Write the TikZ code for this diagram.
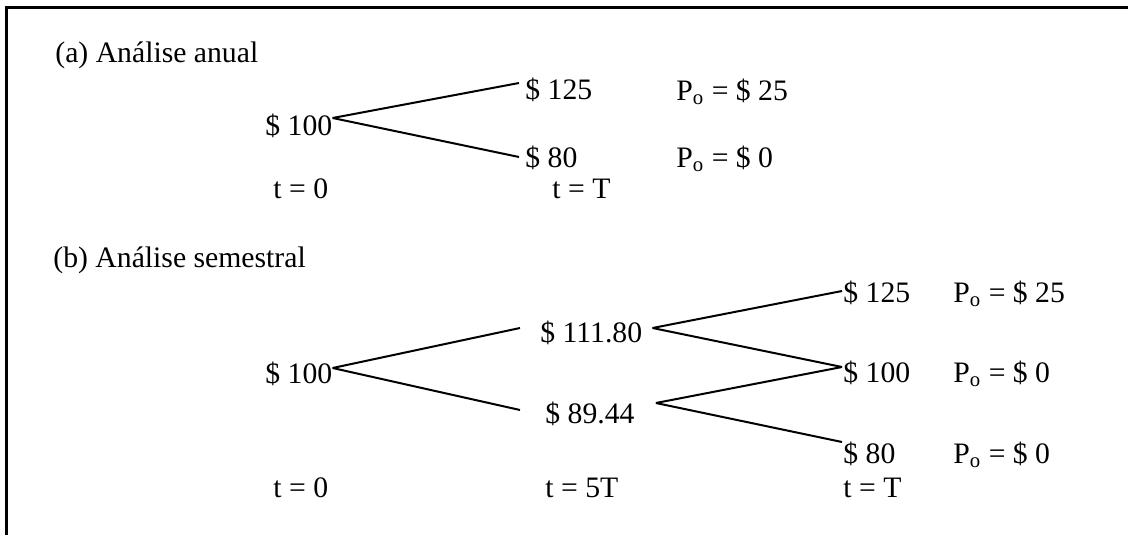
\documentclass[tikz,border=0pt]{standalone}
\usepackage{fontspec}
\setmainfont{Liberation Serif}
\usetikzlibrary{positioning}

\begin{document}
\begin{tikzpicture}[
  x=0.5pt, y=-0.5pt,
  every node/.style={font=\fontsize{14.85}{17}\selectfont, inner sep=0pt, anchor=base west},
  branch/.style={line width=1pt},
  frame/.style={line width=1.5pt},
]
\useasboundingbox (0,0) rectangle (1128,535);
\draw[frame] (6.5,535) -- (6.5,7.5) -- (1128,7.5);

% (a) annual
\node (titleA) at (55,63) {(a) Análise anual};
\node (a100) at (265,135) {\$ 100};
\node (a125) at (525,99) {\$ 125};
\node (a80) at (525,167) {\$ 80};
\node (aPup) at (676,100) {P\textsubscript{o} = \$ 25};
\node (aPdn) at (676,167) {P\textsubscript{o} = \$ 0};
\node (at0) at (273,198) {t = 0};
\node (atT) at (552,198) {t = T};

\draw[branch] ([yshift=8.5pt]a100.base east) -- ([xshift=-3pt,yshift=8pt]a125.base west);
\draw[branch] ([yshift=8.5pt]a100.base east) -- ([xshift=-3pt,yshift=5pt]a80.base west);

% (b) semiannual
\node (titleB) at (53,267) {(b) Análise semestral};
\node (b100) at (265,383) {\$ 100};
\node (b111) at (540,342) {\$ 111.80};
\node (b89) at (545,423) {\$ 89.44};
\node (b125) at (843,302) {\$ 125};
\node (bmid) at (843,382) {\$ 100};
\node (b80) at (843,463) {\$ 80};
\node (bPup) at (953,302) {P\textsubscript{o} = \$ 25};
\node (bPmid) at (953,382) {P\textsubscript{o} = \$ 0};
\node (bPdn) at (953,463) {P\textsubscript{o} = \$ 0};
\node (bt0) at (273,497) {t = 0};
\node (bt5) at (545,497) {t = 5T};
\node (btT) at (843,497) {t = T};

\draw[branch] ([yshift=7.5pt]b100.base east) -- ([xshift=-10pt,yshift=7pt]b111.base west);
\draw[branch] ([yshift=7.5pt]b100.base east) -- ([xshift=-12.5pt,yshift=6.5pt]b89.base west);
\draw[branch] ([xshift=5pt,yshift=7pt]b111.base east) -- ([xshift=-0.5pt,yshift=5.5pt]b125.base west);
\draw[branch] ([xshift=5pt,yshift=7pt]b111.base east) -- ([xshift=-0.5pt,yshift=7.5pt]bmid.base west);
\draw[branch] ([xshift=10.5pt,yshift=10pt]b89.base east) -- ([xshift=-0.5pt,yshift=7.5pt]bmid.base west);
\draw[branch] ([xshift=10.5pt,yshift=10pt]b89.base east) -- ([xshift=-0.5pt,yshift=10.5pt]b80.base west);
\end{tikzpicture}
\end{document}
